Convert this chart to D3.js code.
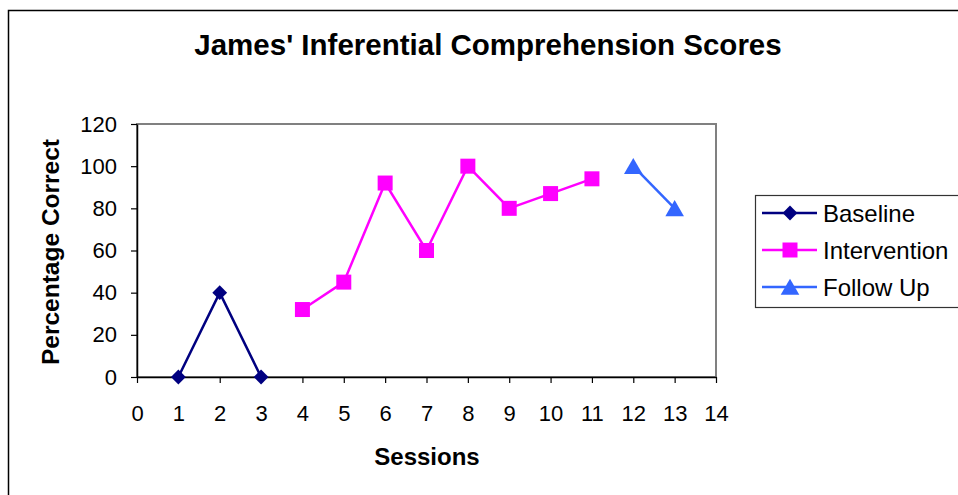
<!DOCTYPE html>
<html>
<head>
<meta charset="utf-8">
<script src="https://cdn.jsdelivr.net/npm/d3@7"></script>
<style>
  body { margin: 0; background: #fff; }
  text { font-family: "Liberation Sans", Arial, sans-serif; }
</style>
</head>
<body>
<svg id="chart" width="958" height="495"></svg>
<script>
// data
var seriesNames = ["Baseline", "Intervention", "Follow Up"];
var seriesColors = ["#000080", "#FF00FF", "#3366FF"];
var baselineSessions = [1, 2, 3];
var baselineScores = [0, 40, 0];
var interventionSessions = [4, 5, 6, 7, 8, 9, 10, 11];
var interventionScores = [32, 45, 92, 60, 100, 80, 87, 94];
var followSessions = [12, 13];
var followScores = [100, 80];
var xTicks = [0, 1, 2, 3, 4, 5, 6, 7, 8, 9, 10, 11, 12, 13, 14];
var yTicks = [0, 20, 40, 60, 80, 100, 120];

var svg = d3.select("#chart");

// outer chart frame (runs off right / bottom edge)
svg.append("rect")
  .attr("x", 8.5).attr("y", 10.5)
  .attr("width", 1000).attr("height", 600)
  .attr("fill", "#fff")
  .attr("stroke", "#000").attr("stroke-width", 1.5);

var plotLeft = 137, plotRight = 716, plotTop = 124, plotBottom = 377;

var x = d3.scaleLinear().domain([0, 14]).range([plotLeft, plotRight]);
var y = d3.scaleLinear().domain([0, 120]).range([plotBottom, plotTop]);

// plot area frame
svg.append("rect")
  .attr("x", plotLeft).attr("y", plotTop)
  .attr("width", plotRight - plotLeft).attr("height", plotBottom - plotTop)
  .attr("fill", "#fff")
  .attr("stroke", "#808080").attr("stroke-width", 2);

var xAxis = svg.append("g")
  .attr("transform", "translate(0," + plotBottom + ")")
  .call(d3.axisBottom(x).tickValues(xTicks).tickSize(6).tickPadding(22).tickSizeOuter(0));
var yAxis = svg.append("g")
  .attr("transform", "translate(" + plotLeft + ",0)")
  .call(d3.axisLeft(y).tickValues(yTicks).tickSize(6).tickPadding(14).tickSizeOuter(0));

[xAxis, yAxis].forEach(function (g) {
  g.attr("font-size", null).attr("font-family", null);
  g.select(".domain").attr("stroke", "#000").attr("stroke-width", 1.5);
  g.selectAll(".tick line").attr("stroke", "#000").attr("stroke-width", 1.2);
  g.selectAll(".tick text")
    .style("font-family", "Liberation Sans, Arial, sans-serif")
    .style("font-size", "22px")
    .attr("fill", "#000");
});

// title and axis labels
svg.append("text")
  .attr("x", 488).attr("y", 55)
  .attr("text-anchor", "middle")
  .style("font-size", "29.5px").style("font-weight", "bold")
  .text("James' Inferential Comprehension Scores");

svg.append("text")
  .attr("x", 427).attr("y", 465)
  .attr("text-anchor", "middle")
  .style("font-size", "24px").style("font-weight", "bold")
  .text("Sessions");

svg.append("text")
  .attr("transform", "translate(59,252) rotate(-90)")
  .attr("text-anchor", "middle")
  .style("font-size", "24.5px").style("font-weight", "bold")
  .text("Percentage Correct");

// diamond drawn as a square turned 45 degrees; triangle nudged so its box is centred
var series = [
  { name: seriesNames[0], color: seriesColors[0], sym: d3.symbolSquare, size: 110, rot: 45, dy: 0,
    pts: baselineSessions.map(function (s, i) { return [s, baselineScores[i]]; }) },
  { name: seriesNames[1], color: seriesColors[1], sym: d3.symbolSquare, size: 225, rot: 0, dy: 0,
    pts: interventionSessions.map(function (s, i) { return [s, interventionScores[i]]; }) },
  { name: seriesNames[2], color: seriesColors[2], sym: d3.symbolTriangle, size: 150, rot: 0, dy: 2.5,
    pts: followSessions.map(function (s, i) { return [s, followScores[i]]; }) }
];

var line = d3.line()
  .x(function (d) { return x(d[0]); })
  .y(function (d) { return y(d[1]); });

series.forEach(function (s) {
  svg.append("path")
    .datum(s.pts)
    .attr("d", line)
    .attr("fill", "none")
    .attr("stroke", s.color)
    .attr("stroke-width", 2.5);

  svg.append("g")
    .selectAll("path")
    .data(s.pts)
    .enter()
    .append("path")
    .attr("d", d3.symbol().type(s.sym).size(s.size))
    .attr("transform", function (d) {
      return "translate(" + x(d[0]) + "," + (y(d[1]) + s.dy) + ") rotate(" + s.rot + ")";
    })
    .attr("fill", s.color);
});

// legend
var legend = svg.append("g");
legend.append("rect")
  .attr("x", 755.5).attr("y", 195.5)
  .attr("width", 260).attr("height", 112)
  .attr("fill", "#fff")
  .attr("stroke", "#333").attr("stroke-width", 1.2);

series.forEach(function (s, i) {
  var ly = 213 + i * 37;
  legend.append("line")
    .attr("x1", 762).attr("x2", 817)
    .attr("y1", ly).attr("y2", ly)
    .attr("stroke", s.color).attr("stroke-width", 2.5);
  legend.append("path")
    .attr("d", d3.symbol().type(s.sym).size(s.size))
    .attr("transform", "translate(790," + (ly + s.dy) + ") rotate(" + s.rot + ")")
    .attr("fill", s.color);
  legend.append("text")
    .attr("x", 823).attr("y", ly + 9)
    .style("font-size", "24px")
    .text(s.name);
});
</script>
</body>
</html>
